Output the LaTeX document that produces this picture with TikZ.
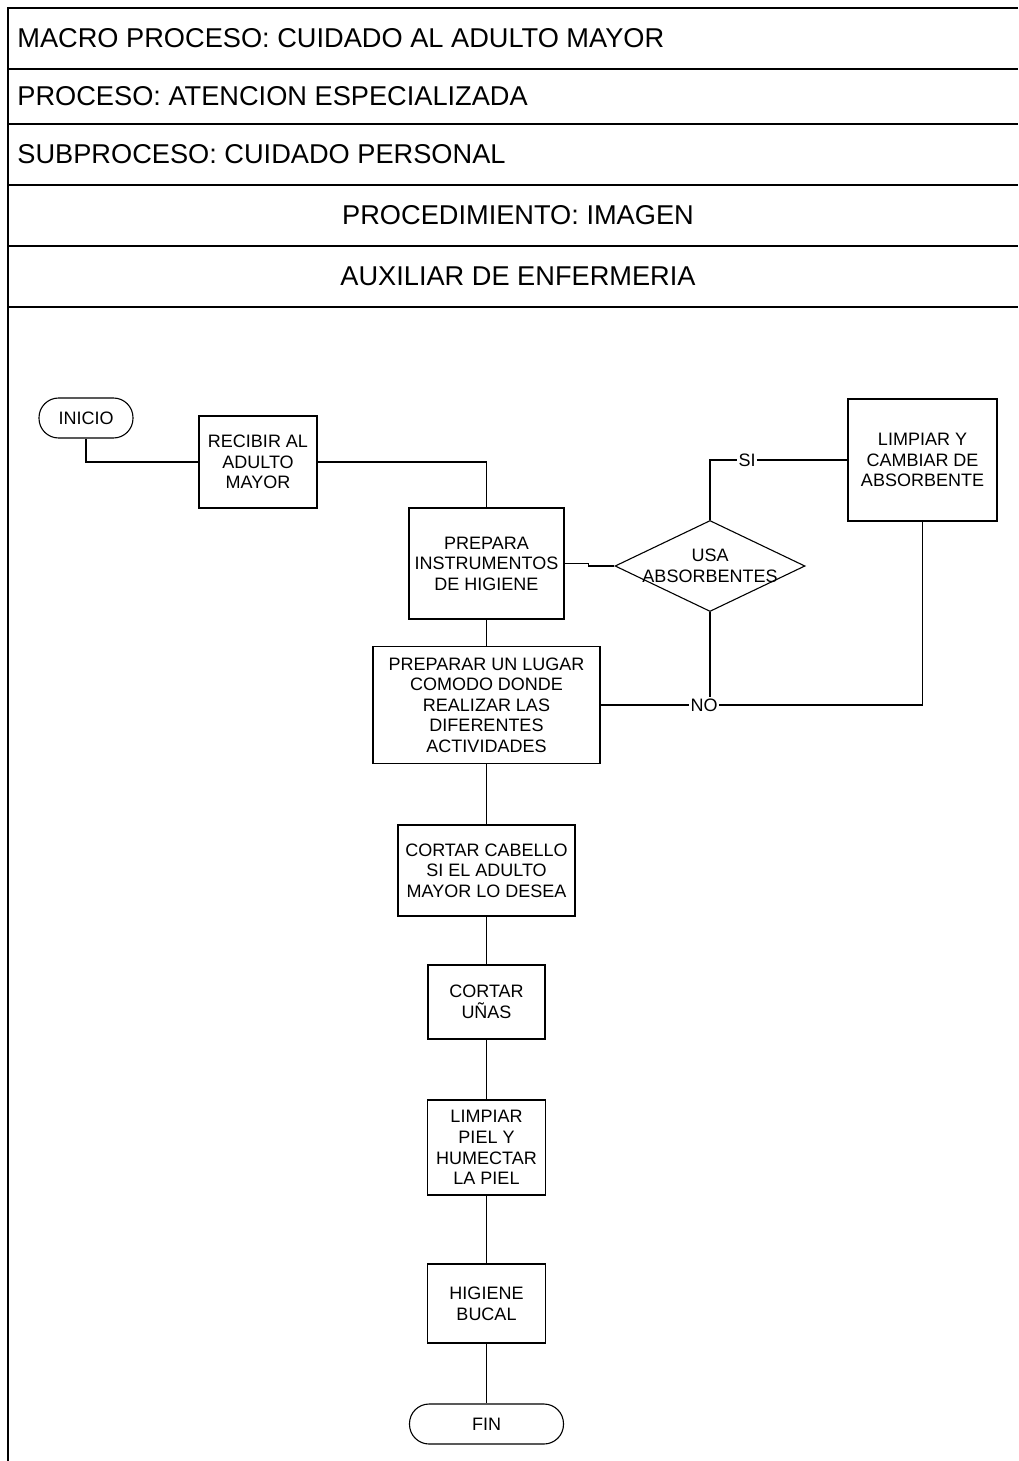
\documentclass[tikz,border=0pt]{standalone}
\usepackage{fontspec}
\setmainfont{Liberation Sans}
\usetikzlibrary{shapes.geometric}
\begin{document}
\begin{tikzpicture}[x=0.5pt,y=-0.5pt,
  frame/.style={line width=0.8pt},
  hdr/.style={font=\fontsize{13.6}{16}\selectfont, inner sep=0pt},
  txt/.style={font=\fontsize{9}{10.3}\selectfont, align=center},
  stepbox/.style={txt, draw, line width=0.55pt, inner sep=0pt},
  term/.style={stepbox, rounded corners=9.8pt},
  decision/.style={draw, diamond, line width=0.55pt, inner sep=0pt},
  tag/.style={txt, inner sep=0.5pt, fill=white},
  link/.style={line width=0.55pt}]
\useasboundingbox (0,0) rectangle (1018,1461);

% header table
\draw[frame] (8,1461) -- (8,8) -- (1018,8);
\foreach \yy in {69,124,185,246,307}
  \draw[frame] (8,\yy) -- (1018,\yy);
\node[hdr, anchor=west] (macro) at (17,38.5) {MACRO PROCESO: CUIDADO AL ADULTO MAYOR};
\node[hdr, anchor=west] (proc) at (17,96.5) {PROCESO: ATENCION ESPECIALIZADA};
\node[hdr, anchor=west] (subp) at (17,154.5) {SUBPROCESO: CUIDADO PERSONAL};
\node[hdr] (proced) at (518,215.5) {PROCEDIMIENTO: IMAGEN};
\node[hdr] (resp) at (518,276.5) {AUXILIAR DE ENFERMERIA};

% flow nodes
\node[term, minimum width=47pt, minimum height=20pt] (inicio) at (86,418) {INICIO};
\node[stepbox, minimum width=59pt, minimum height=46pt] (recibir) at (258,462) {RECIBIR AL\\ADULTO\\MAYOR};
\node[stepbox, minimum width=77.5pt, minimum height=55.5pt] (prepara) at (486.5,563.5) {PREPARA\\INSTRUMENTOS\\DE HIGIENE};
\node[decision, minimum width=95pt, minimum height=45.5pt] (dia) at (710,566) {};
\node[txt, inner sep=0pt] (diatxt) at (710,566) {USA\\ABSORBENTES};
\node[stepbox, minimum width=74.5pt, minimum height=61pt] (limpiar) at (922.5,460) {LIMPIAR Y\\CAMBIAR DE\\ABSORBENTE};
\node[stepbox, minimum width=113.5pt, minimum height=58.5pt] (lugar) at (486.5,705) {PREPARAR UN LUGAR\\COMODO DONDE\\REALIZAR LAS\\DIFERENTES\\ACTIVIDADES};
\node[stepbox, minimum width=88.5pt, minimum height=45.5pt] (cabello) at (486.5,870.5) {CORTAR CABELLO\\SI EL ADULTO\\MAYOR LO DESEA};
\node[stepbox, minimum width=58.5pt, minimum height=37pt] (unas) at (486.5,1002) {CORTAR\\UÑAS};
\node[stepbox, minimum width=59pt, minimum height=47.5pt] (piel) at (486.5,1147.5) {LIMPIAR\\PIEL Y\\HUMECTAR\\LA PIEL};
\node[stepbox, minimum width=59pt, minimum height=39.5pt] (bucal) at (486.5,1303.5) {HIGIENE\\BUCAL};
\node[term, minimum width=77pt, minimum height=20pt] (fin) at (486.5,1424) {FIN};

% branch labels
\node[tag] (si) at (747,460) {SI};
\node[tag] (no) at (704,705) {NO};

% connectors
\draw[link] (inicio.south) |- (recibir.west);
\draw[link] (recibir.east) -| (prepara.north);
\draw[link] (prepara.east) -- ++(24,0) coordinate (jog) |- (dia.west);
\draw[link] (dia.north) |- (si.west);
\draw[link] (si.east) -- (limpiar.west);
\draw[link] (limpiar.south) |- (no.east);
\draw[link] (dia.south) -- (dia.south |- no.north);
\draw[line width=0.9pt] (lugar.east) -- (no.west);
\draw[link] (prepara.south) -- (lugar.north);
\draw[link] (lugar.south) -- (cabello.north);
\draw[link] (cabello.south) -- (unas.north);
\draw[link] (unas.south) -- (piel.north);
\draw[link] (piel.south) -- (bucal.north);
\draw[link] (bucal.south) -- (fin.north);
\end{tikzpicture}
\end{document}
